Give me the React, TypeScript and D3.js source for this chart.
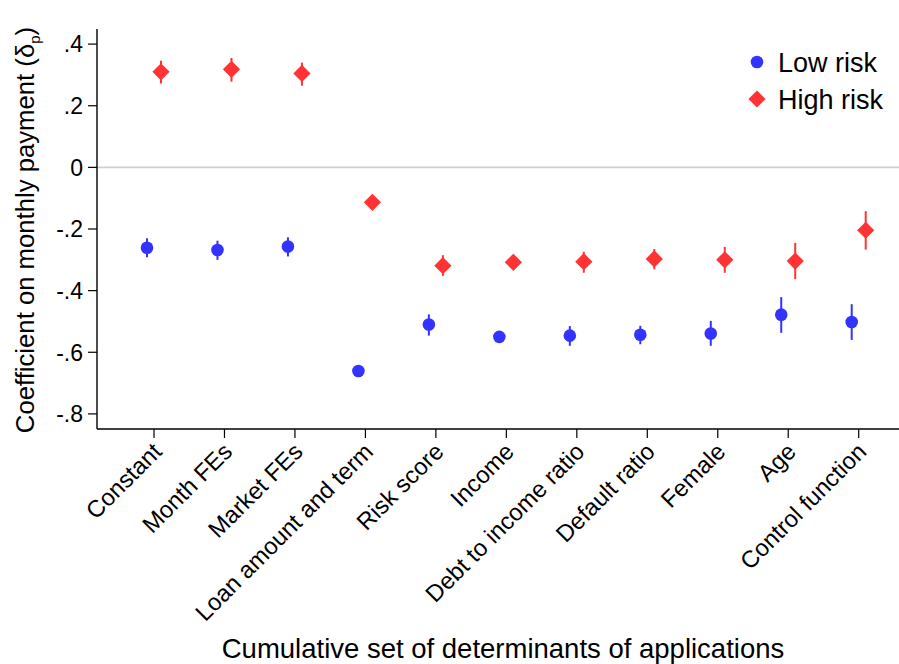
import React from "react";
import * as d3 from "d3";

const categories = ["Constant", "Month FEs", "Market FEs", "Loan amount and term", "Risk score", "Income", "Debt to income ratio", "Default ratio", "Female", "Age", "Control function"];
const lowEst = [-0.261, -0.268, -0.257, -0.661, -0.510, -0.550, -0.546, -0.543, -0.539, -0.478, -0.502];
const lowLo = [-0.292, -0.300, -0.289, -0.670, -0.546, -0.566, -0.579, -0.574, -0.579, -0.537, -0.560];
const lowHi = [-0.230, -0.238, -0.227, -0.652, -0.477, -0.534, -0.515, -0.514, -0.498, -0.421, -0.444];
const highEst = [0.310, 0.318, 0.305, -0.1135, -0.319, -0.308, -0.306, -0.297, -0.300, -0.304, -0.204];
const highLo = [0.272, 0.278, 0.265, -0.122, -0.352, -0.320, -0.342, -0.331, -0.342, -0.363, -0.267];
const highHi = [0.346, 0.355, 0.340, -0.105, -0.285, -0.296, -0.274, -0.265, -0.258, -0.245, -0.142];
const yTicks = [0.4, 0.2, 0, -0.2, -0.4, -0.6, -0.8];
const yTickLabels = [".4", ".2", "0", "-.2", "-.4", "-.6", "-.8"];

const BLUE = "#3333ff";
const RED = "#ff3333";
const FONT = "'Liberation Sans', Arial, Helvetica, sans-serif";

export default function App() {
  const W = 899, H = 664;
  const left = 97, top = 29, bottom = 429;
  const y = d3.scaleLinear().domain([-0.849, 0.449]).range([bottom, top]);
  const step = 70.47;
  const x = d3.scalePoint<string>().domain(categories).range([154, 154 + step * 10]);
  const off = 7;
  const diamond = (cx: number, cy: number, r: number) =>
    `M${cx},${cy - r}L${cx + r},${cy}L${cx},${cy + r}L${cx - r},${cy}Z`;

  return (
    <svg width={W} height={H} style={{ position: "absolute", left: 0, top: 0, fontFamily: FONT }}>
      <rect width={W} height={H} fill="#fff" />
      {/* zero line */}
      <line x1={left} x2={W} y1={y(0)} y2={y(0)} stroke="#cfcfcf" strokeWidth={1.6} />
      {/* axes */}
      <line x1={left} x2={left} y1={top} y2={bottom} stroke="#000" strokeWidth={1.4} />
      <line x1={left} x2={W} y1={bottom} y2={bottom} stroke="#000" strokeWidth={1.4} />
      {yTicks.map((t, i) => (
        <g key={i}>
          <line x1={left - 9} x2={left} y1={y(t)} y2={y(t)} stroke="#000" strokeWidth={1.2} />
          <text x={left - 14} y={y(t)} dy="0.36em" textAnchor="end" fontSize={23}>{yTickLabels[i]}</text>
        </g>
      ))}
      {categories.map((c, i) => {
        const cx = x(c)!;
        return (
          <g key={c}>
            <line x1={cx} x2={cx} y1={bottom} y2={bottom + 9} stroke="#000" strokeWidth={1.2} />
            <text transform={`translate(${cx - 3},${bottom + 12}) rotate(-45)`} textAnchor="end" fontSize={23.8} dy="0.72em">{c}</text>
          </g>
        );
      })}
      {/* error bars and markers */}
      {categories.map((c, i) => {
        const bx = x(c)! - off;
        const rx = x(c)! + off;
        return (
          <g key={"p" + c}>
            <line x1={bx} x2={bx} y1={y(lowLo[i])} y2={y(lowHi[i])} stroke={BLUE} strokeWidth={2} />
            <circle cx={bx} cy={y(lowEst[i])} r={6.3} fill={BLUE} />
            <line x1={rx} x2={rx} y1={y(highLo[i])} y2={y(highHi[i])} stroke={RED} strokeWidth={2} />
            <path d={diamond(rx, y(highEst[i]), 8.6)} fill={RED} />
          </g>
        );
      })}
      {/* legend */}
      <circle cx={757} cy={62} r={6.3} fill={BLUE} />
      <text x={778} y={72} fontSize={27}>Low risk</text>
      <path d={diamond(757, 99, 8.6)} fill={RED} />
      <text x={778} y={109} fontSize={27}>High risk</text>
      {/* axis titles */}
      <text transform={`translate(34,230) rotate(-90)`} textAnchor="middle" fontSize={25.7}>
        Coefficient on monthly payment (δ<tspan fontSize={15} dy={6}>p</tspan><tspan dy={-6}>)</tspan>
      </text>
      <text x={503} y={658} textAnchor="middle" fontSize={27.5}>Cumulative set of determinants of applications</text>
    </svg>
  );
}
